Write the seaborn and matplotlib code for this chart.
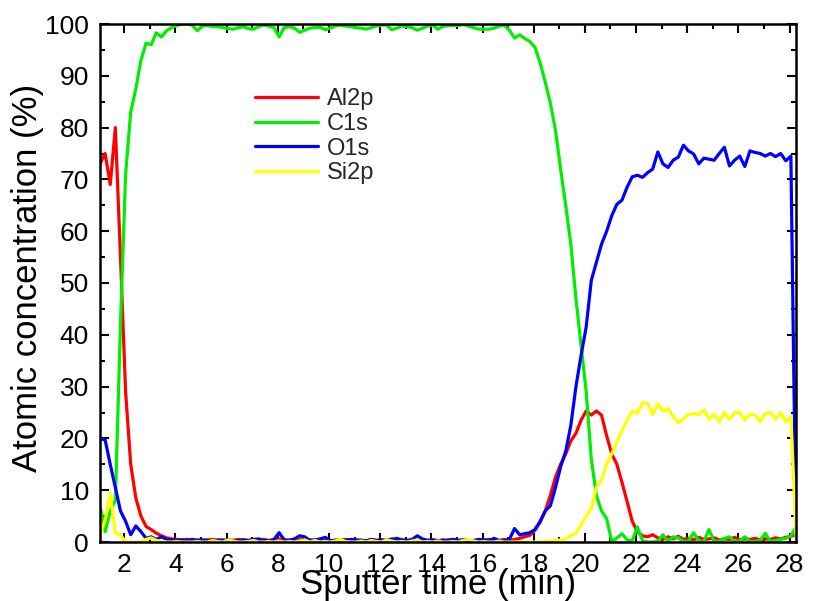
import numpy as np
import pandas as pd
import matplotlib
matplotlib.use("Agg")
import matplotlib.pyplot as plt
import seaborn as sns
from matplotlib.ticker import MultipleLocator

# ---------------- data ----------------
t_start = 1.05   # min
t_step = 0.2     # min per acquisition

elements = ["Al2p", "C1s", "O1s", "Si2p"]
colors = {"Al2p": "#ff0000", "C1s": "#00ee00", "O1s": "#0000ff", "Si2p": "#ffff00"}

al2p = [
    73, 75, 69, 80, 55, 29, 15, 8.5, 5, 3,
    2.4, 1.7, 1.2, 0.8, 0.6, 0.5, 0.4, 0.5, 0.3, 0.4,
    0.3, 0.4, 0.5, 0.3, 0.4, 0.2, 0.3, 0.5, 0.4, 0.3,
    0.4, 0.2, 0.5, 0.3, 0.4, 0.6, 0.3, 0.4, 0.2, 0.5,
    0.3, 0.4, 0.3, 0.5, 0.3, 0.2, 0.4, 0.3, 0.5, 0.4,
    0.3, 0.4, 0.2, 0.5, 0.3, 0.4, 0.3, 0.6, 0.3, 0.4,
    0.2, 0.4, 0.3, 0.5, 0.3, 0.4, 0.3, 0.2, 0.4, 0.5,
    0.3, 0.4, 0.3, 0.2, 0.4, 0.3, 0.5, 0.4, 0.3, 0.5,
    0.3, 0.5, 0.7, 1.0, 1.3, 2.3, 3.8, 6, 9, 12.5,
    15, 17, 19.5, 21, 23.5, 25.3, 24.5, 25.3, 24.5, 20.5,
    17, 15, 11.5, 7.8, 4, 2, 1.2, 1.0, 1.4, 0.8,
    0.5, 1.0, 0.6, 1.1, 0.5, 0.7, 0.4, 0.9, 0.5, 0.6,
    0.8, 0.4, 0.6, 0.5, 0.9, 0.4, 0.6, 0.5, 0.7, 0.4,
    0.6, 0.5, 0.8, 0.6, 0.9, 1.1,
    1.5,
]

c1s = [
    7, 2, 6, 8, 42, 71, 83, 87.5, 93, 96.3,
    96, 98.3, 97.5, 98.7, 99.3, 99.7, 100, 100, 99.8, 98.7,
    99.6, 99.7, 99.5, 99.5, 99.3, 99.1, 99.0, 99.3, 99.5, 99.1,
    99.0, 99.5, 99.8, 99.6, 99.3, 97.5, 99.3, 99.5, 99.2, 98.4,
    98.8, 99.2, 99.3, 99.4, 98.9, 99.2, 99.6, 99.8, 99.6, 99.5,
    99.3, 99.2, 99.0, 99.3, 99.6, 99.8, 99.8, 98.9, 99.2, 99.6,
    99.5, 99.3, 98.8, 99.2, 99.6, 99.8, 99.0, 99.5, 99.7, 99.7,
    99.7, 99.9, 99.6, 99.3, 99.0, 99.0, 99.0, 99.2, 99.6, 99.8,
    98.8, 97.3, 97.9, 97.2, 96.6, 95.5, 92.5, 88.8, 84.8, 79.5,
    72, 65, 57.5, 47, 38, 29, 16, 9, 6, 4.5,
    0.1, 0.8, 1.6, 0.4, 0.2, 2.9, 0.3, 0.0, 0.0, 0.2,
    1.4, 0.1, 1.0, 0.8, 0.1, 0.2, 1.8, 0.2, 0.1, 2.4,
    0.1, 0.2, 0.7, 1.0, 0.1, 0.2, 1.0, 0.1, 0.1, 0.3,
    1.7, 0.1, 0.3, 0.5, 0.7, 1.2,
    3,
]

o1s = [
    20, 19.7, 15, 10.5, 6, 4, 1.4, 3.1, 2, 0.7,
    1.0, 0.5, 1.0, 0.5, 0.4, 0.3, 0.4, 0.3, 0.5, 0.3,
    0.4, 0.3, 0.2, 0.4, 0.3, 0.4, 0.3, 0.2, 0.4, 0.3,
    0.5, 0.6, 0.3, 0.2, 0.5, 1.8, 0.4, 0.3, 0.6, 1.2,
    1.0, 0.3, 0.4, 0.6, 0.9, 0.3, 0.2, 0.4, 0.3, 0.5,
    0.4, 0.3, 0.2, 0.5, 0.3, 0.4, 0.3, 0.5, 0.7, 0.4,
    0.3, 0.5, 1.2, 0.6, 0.3, 0.4, 0.2, 0.4, 0.3, 0.5,
    0.3, 0.4, 0.2, 0.3, 0.5, 0.4, 0.3, 0.7, 0.3, 0.2,
    0.5, 2.6, 1.4, 1.6, 1.8, 2.4, 4.0, 6.0, 7.0, 10.5,
    14.5, 17.5, 22.5, 30, 36, 41.5, 50.5, 54, 57.5, 60,
    63, 65.2, 66, 68.5, 70.5, 70.8, 70.4, 71.3, 72, 75.3,
    73, 72.3, 73.7, 74.3, 76.6, 75.5, 74.9, 73, 74.1, 73.9,
    73.7, 75, 76.2, 72.6, 73.7, 74.5, 72.5, 75.5, 75.2, 75,
    74.5, 75, 74.4, 75, 73.6, 74.5,
    1,
]

si2p = [
    1.4, 4.2, 9.4, 1.7, 1.4, 0, 0, 0, 0.1, 0.5,
    0.8, 0.3, 0.2, 0, 0, 0.1, 0, 0, 0, 0.1,
    0, 0, 0.3, 0.1, 0, 0.4, 0.2, 0, 0, 0.1,
    0.3, 0, 0, 0.1, 0, 0.2, 0, 0.1, 0, 0.2,
    0.4, 0, 0.3, 0, 0.1, 0, 0.2, 0.5, 0.1, 0,
    0, 0.2, 0, 0.3, 0.1, 0, 0.4, 0.2, 0, 0.1,
    0, 0.2, 0.4, 0, 0.1, 0, 0.2, 0, 0, 0.1,
    0, 0.3, 0.5, 0.2, 0, 0.1, 0, 0, 0.2, 0,
    0, 0, 0, 0, 0, 0, 0.1, 0.1, 0.2, 0.3,
    0.4, 0.6, 1.2, 1.7, 3.3, 5.0, 6.5, 10.5, 12, 15,
    17, 19.3, 21.5, 23.5, 25.3, 24.8, 26.9, 26.8, 24.6, 26.7,
    25.3, 25.8, 24.2, 23.0, 23.8, 24.6, 24.8, 24.6, 25.5, 23.7,
    24.7, 23.2, 25, 23.7, 25, 25, 23.5, 24.7, 24.5, 23.2,
    24.8, 25, 23.7, 25, 23.2, 24.3,
    1,
]

x_ticks_major = 2
x_ticks_minor = 1
y_ticks_major = 10
y_ticks_minor = 5

# ---------------- build table ----------------
n = len(al2p)
time = np.round(t_start + t_step * np.arange(n), 3)
series = {"Al2p": al2p, "C1s": c1s, "O1s": o1s, "Si2p": si2p}
df = pd.concat(
    [pd.DataFrame({"time": time, "value": vals, "element": name}) for name, vals in series.items()],
    ignore_index=True,
)

# ---------------- plot ----------------
sns.set_style("ticks")
plt.rcParams["font.family"] = ["Liberation Sans", "DejaVu Sans"]

fig = plt.figure(figsize=(8.14, 6.01), dpi=100)
ax = fig.add_axes([100 / 814, 59 / 601, 696 / 814, 518 / 601])

sns.lineplot(
    data=df, x="time", y="value", hue="element", hue_order=elements,
    palette=colors, linewidth=2.3, legend=False, errorbar=None,
    estimator=None, sort=False, ax=ax,
)

ax.set_xlim(time[0], time[-1])
ax.set_ylim(0, 100)
ax.xaxis.set_major_locator(MultipleLocator(x_ticks_major))
ax.xaxis.set_minor_locator(MultipleLocator(x_ticks_minor))
ax.yaxis.set_major_locator(MultipleLocator(y_ticks_major))
ax.yaxis.set_minor_locator(MultipleLocator(y_ticks_minor))

ax.tick_params(which="both", direction="in", top=True, right=True,
               width=1.5, color="black")
ax.tick_params(which="major", length=6.5, labelsize=19, pad=8, labelcolor="black")
ax.tick_params(which="minor", length=3.3)
for s in ax.spines.values():
    s.set_linewidth(1.8)
    s.set_color("black")

ax.set_xlabel("Sputter time (min)", fontsize=25, color="black")
ax.xaxis.set_label_coords(0.486, -0.050)
ax.set_ylabel("Atomic concentration (%)", fontsize=25, color="black")
ax.yaxis.set_label_coords(-0.080, 0.51)

handles = ax.lines[:4]
ax.legend(
    handles, elements, loc="upper left",
    bbox_to_anchor=(255 / 814, 1 - 88 / 601), bbox_transform=fig.transFigure,
    frameon=False, fontsize=17, handlelength=2.65, handletextpad=0.38,
    labelspacing=0.12, borderpad=0, borderaxespad=0,
)

fig.savefig("out.png", dpi=100)
